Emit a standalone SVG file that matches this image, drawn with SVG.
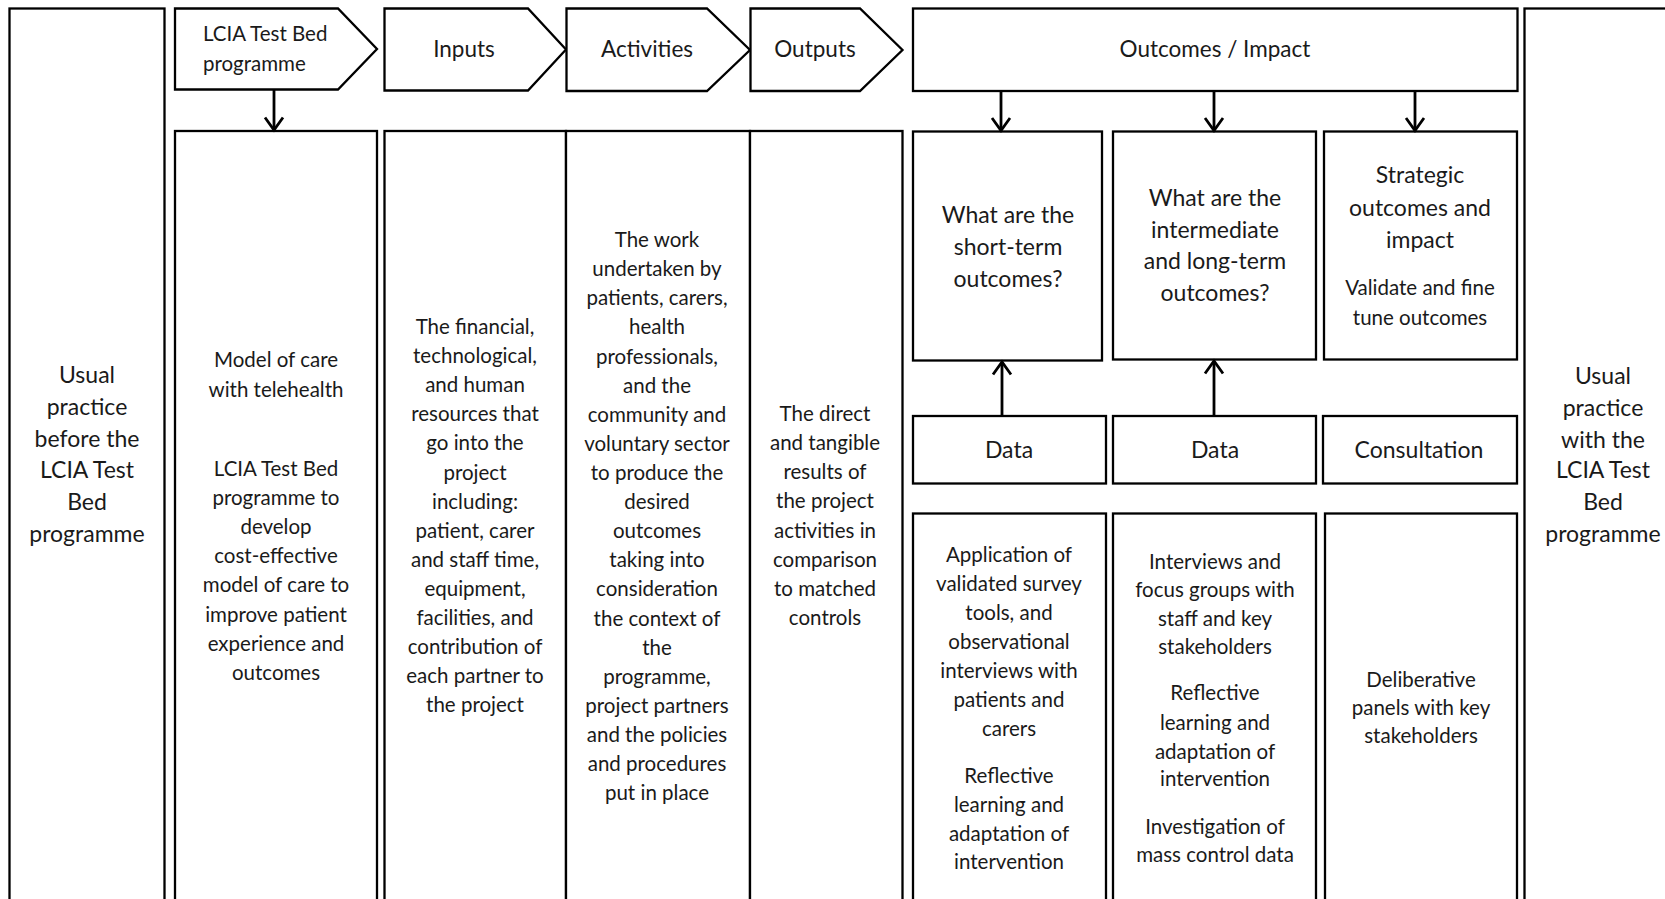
<svg xmlns="http://www.w3.org/2000/svg" width="1665" height="899" viewBox="0 0 1665 899">
<style>
.box{fill:#fff;stroke:#000;stroke-width:2.3}
.t{font-family:Lato,"Liberation Sans",sans-serif;fill:#1a1a1a;text-anchor:middle}
.b{font-size:20.5px}
.l{font-size:23px}
.h{font-size:22.5px}
.c{fill:none;stroke:#000;stroke-width:2.8}
</style>
<defs>
<marker id="arr" markerUnits="userSpaceOnUse" viewBox="-16 -12 18 24" markerWidth="18" markerHeight="24" refX="0" refY="0" orient="auto" overflow="visible">
<path d="M-12.5,-9 L0,0 L-12.5,9" fill="none" stroke="#000" stroke-width="2.8"/>
</marker>
</defs>
<rect width="1665" height="899" fill="#fff"/>

<g id="before">
<rect class="box" x="9.5" y="8.5" width="155" height="905"/>
<text class="t l"><tspan x="87" y="383">Usual</tspan><tspan x="87" y="415">practice</tspan><tspan x="87" y="447">before the</tspan><tspan x="87" y="478">LCIA Test</tspan><tspan x="87" y="510">Bed</tspan><tspan x="87" y="542">programme</tspan></text>
</g>

<g id="after">
<rect class="box" x="1524.5" y="8.5" width="160" height="905"/>
<text class="t l"><tspan x="1603" y="384">Usual</tspan><tspan x="1603" y="416">practice</tspan><tspan x="1603" y="448">with the</tspan><tspan x="1603" y="478">LCIA Test</tspan><tspan x="1603" y="510">Bed</tspan><tspan x="1603" y="542">programme</tspan></text>
</g>

<g id="hdr-lcia">
<path class="box" d="M175,8.5 H338 L377,49 L338,89.5 H175 Z"/>
<text class="t b" style="text-anchor:start"><tspan x="203" y="41">LCIA Test Bed</tspan><tspan x="203" y="71">programme</tspan></text>
</g>
<g id="hdr-inputs">
<path class="box" d="M384.5,8.5 H528 L566,49.5 L528,90.5 H384.5 Z"/>
<text class="t h" x="464" y="57">Inputs</text>
</g>
<g id="hdr-activities">
<path class="box" d="M566.5,8.5 H707 L750,50 L707,91 H566.5 Z"/>
<text class="t h" x="647" y="57">Activities</text>
</g>
<g id="hdr-outputs">
<path class="box" d="M750.5,8.5 H860 L902.5,50 L860,91 H750.5 Z"/>
<text class="t h" x="815" y="57">Outputs</text>
</g>
<g id="hdr-outcomes">
<rect class="box" x="913" y="8.5" width="604.5" height="82.5"/>
<text class="t h" x="1215" y="57">Outcomes / Impact</text>
</g>

<g id="col-lcia">
<rect class="box" x="175" y="131" width="202" height="790"/>
<text class="t b"><tspan x="276" y="367">Model of care</tspan><tspan x="276" y="397">with telehealth</tspan><tspan x="276" y="476">LCIA Test Bed</tspan><tspan x="276" y="505">programme to</tspan><tspan x="276" y="534">develop</tspan><tspan x="276" y="563">cost-effective</tspan><tspan x="276" y="592">model of care to</tspan><tspan x="276" y="622">improve patient</tspan><tspan x="276" y="651">experience and</tspan><tspan x="276" y="680">outcomes</tspan></text>
</g>

<g id="col-inputs">
<rect class="box" x="384.5" y="131" width="181.5" height="790"/>
<text class="t b"><tspan x="475" y="334">The financial,</tspan><tspan x="475" y="363">technological,</tspan><tspan x="475" y="392">and human</tspan><tspan x="475" y="421">resources that</tspan><tspan x="475" y="450">go into the</tspan><tspan x="475" y="479.5">project</tspan><tspan x="475" y="508.6">including:</tspan><tspan x="475" y="537.7">patient, carer</tspan><tspan x="475" y="566.8">and staff time,</tspan><tspan x="475" y="596">equipment,</tspan><tspan x="475" y="625">facilities, and</tspan><tspan x="475" y="654">contribution of</tspan><tspan x="475" y="683">each partner to</tspan><tspan x="475" y="712">the project</tspan></text>
</g>

<g id="col-activities">
<rect class="box" x="566" y="131" width="184" height="790"/>
<text class="t b"><tspan x="657" y="247">The work</tspan><tspan x="657" y="276">undertaken by</tspan><tspan x="657" y="305">patients, carers,</tspan><tspan x="657" y="334">health</tspan><tspan x="657" y="363.5">professionals,</tspan><tspan x="657" y="392.6">and the</tspan><tspan x="657" y="421.7">community and</tspan><tspan x="657" y="450.8">voluntary sector</tspan><tspan x="657" y="480">to produce the</tspan><tspan x="657" y="509">desired</tspan><tspan x="657" y="538">outcomes</tspan><tspan x="657" y="567">taking into</tspan><tspan x="657" y="596.4">consideration</tspan><tspan x="657" y="625.5">the context of</tspan><tspan x="657" y="654.7">the</tspan><tspan x="657" y="683.8">programme,</tspan><tspan x="657" y="713">project partners</tspan><tspan x="657" y="742">and the policies</tspan><tspan x="657" y="771">and procedures</tspan><tspan x="657" y="800">put in place</tspan></text>
</g>

<g id="col-outputs">
<rect class="box" x="750" y="131" width="152.5" height="790"/>
<text class="t b"><tspan x="825" y="421">The direct</tspan><tspan x="825" y="450">and tangible</tspan><tspan x="825" y="479">results of</tspan><tspan x="825" y="508">the project</tspan><tspan x="825" y="537.5">activities in</tspan><tspan x="825" y="566.6">comparison</tspan><tspan x="825" y="595.7">to matched</tspan><tspan x="825" y="624.8">controls</tspan></text>
</g>

<g id="q-short">
<rect class="box" x="913" y="131.5" width="189" height="229"/>
<text class="t l"><tspan x="1008" y="222.5">What are the</tspan><tspan x="1008" y="255">short-term</tspan><tspan x="1008" y="287">outcomes?</tspan></text>
</g>
<g id="q-long">
<rect class="box" x="1113" y="131.5" width="203" height="228"/>
<text class="t l"><tspan x="1215" y="205.5">What are the</tspan><tspan x="1215" y="237.5">intermediate</tspan><tspan x="1215" y="269">and long-term</tspan><tspan x="1215" y="301">outcomes?</tspan></text>
</g>
<g id="q-strategic">
<rect class="box" x="1324" y="131.5" width="193" height="228"/>
<text class="t l"><tspan x="1420" y="183">Strategic</tspan><tspan x="1420" y="216">outcomes and</tspan><tspan x="1420" y="248">impact</tspan></text>
<text class="t b"><tspan x="1420" y="295">Validate and fine</tspan><tspan x="1420" y="324.5">tune outcomes</tspan></text>
</g>

<g id="data1">
<rect class="box" x="913" y="416" width="193" height="67.5"/>
<text class="t l" x="1009" y="458">Data</text>
</g>
<g id="data2">
<rect class="box" x="1113" y="416" width="203" height="67.5"/>
<text class="t l" x="1215" y="458">Data</text>
</g>
<g id="consultation">
<rect class="box" x="1323" y="416" width="194" height="67.5"/>
<text class="t l" x="1419" y="458">Consultation</text>
</g>

<g id="m-short">
<rect class="box" x="913" y="513.5" width="193" height="420"/>
<text class="t b"><tspan x="1009" y="562">Application of</tspan><tspan x="1009" y="591">validated survey</tspan><tspan x="1009" y="620">tools, and</tspan><tspan x="1009" y="648.5">observational</tspan><tspan x="1009" y="678">interviews with</tspan><tspan x="1009" y="707">patients and</tspan><tspan x="1009" y="735.5">carers</tspan><tspan x="1009" y="783">Reflective</tspan><tspan x="1009" y="812">learning and</tspan><tspan x="1009" y="840.6">adaptation of</tspan><tspan x="1009" y="869.3">intervention</tspan></text>
</g>
<g id="m-long">
<rect class="box" x="1113" y="513.5" width="203" height="420"/>
<text class="t b"><tspan x="1215" y="568.7">Interviews and</tspan><tspan x="1215" y="597.4">focus groups with</tspan><tspan x="1215" y="626">staff and key</tspan><tspan x="1215" y="653.7">stakeholders</tspan><tspan x="1215" y="700.4">Reflective</tspan><tspan x="1215" y="730">learning and</tspan><tspan x="1215" y="758.8">adaptation of</tspan><tspan x="1215" y="786.4">intervention</tspan><tspan x="1215" y="834">Investigation of</tspan><tspan x="1215" y="862">mass control data</tspan></text>
</g>
<g id="m-strategic">
<rect class="box" x="1325" y="513.5" width="192" height="420"/>
<text class="t b"><tspan x="1421" y="686.6">Deliberative</tspan><tspan x="1421" y="715.3">panels with key</tspan><tspan x="1421" y="743">stakeholders</tspan></text>
</g>

<g id="connectors">
<line class="c" x1="274" y1="89.5" x2="274" y2="130" marker-end="url(#arr)"/>
<line class="c" x1="1001" y1="91" x2="1001" y2="130.5" marker-end="url(#arr)"/>
<line class="c" x1="1214" y1="91" x2="1214" y2="130.5" marker-end="url(#arr)"/>
<line class="c" x1="1415" y1="91" x2="1415" y2="130.5" marker-end="url(#arr)"/>
<line class="c" x1="1002" y1="416" x2="1002" y2="362" marker-end="url(#arr)"/>
<line class="c" x1="1214" y1="416" x2="1214" y2="361" marker-end="url(#arr)"/>
</g>
</svg>
